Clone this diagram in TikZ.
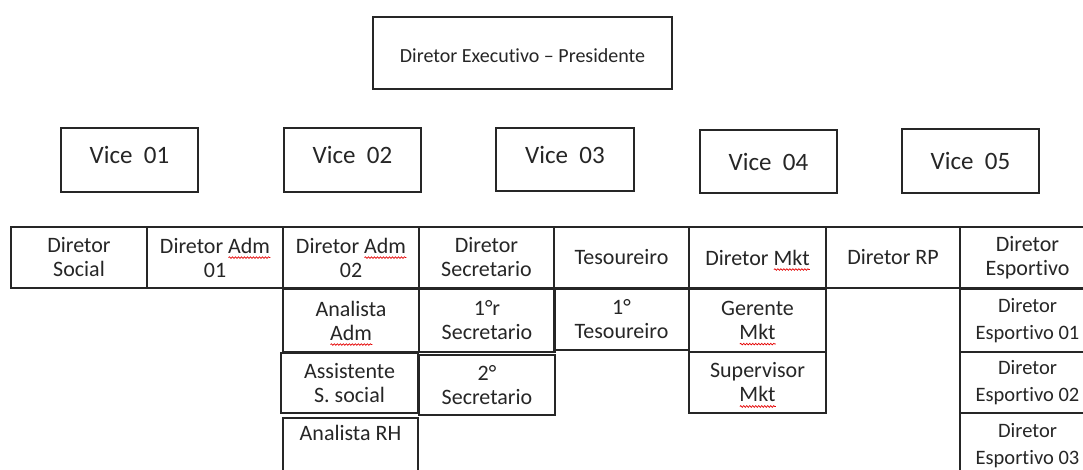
\documentclass[tikz,border=0pt]{standalone}
\usepackage{fontspec}
\setmainfont{Carlito}[Ligatures=NoCommon]
\usetikzlibrary{decorations.pathmorphing}
% red wavy spell-check underline drawn under a word
\newlength\spellwd
\newcommand\spellmark[1]{\settowidth\spellwd{#1}%
  \smash{\rlap{\tikz[baseline=0pt,x=1pt,y=1pt]
    \draw[red!90!black,line width=0.7pt,decorate,
          decoration={snake,amplitude=0.8pt,segment length=3pt}]
      (0,-4.5) -- (\spellwd,-4.5);}}#1}
% \orgcell[options]{name}{x1}{y1}{x2}{y2}{text}
\newcommand\orgcell[7][]{%
  \node[cell,minimum width={#5-#3},minimum height={#6-#4},#1] (#2)
    at ({(#3+#5)/2},{(#4+#6)/2}) {#7};}
\begin{document}
\begin{tikzpicture}[x=1pt,y=-1pt,
  cell/.style={draw=black!85, line width=1.2pt, inner sep=0pt, align=center,
               text=black!85, font=\fontsize{22}{24}\selectfont},
  heavy/.style={line width=2.2pt},
  topfont/.style={font=\fontsize{20}{24}\selectfont, text height=20pt, text depth=0pt},
  vicefont/.style={font=\fontsize{25}{30}\selectfont},
  lift/.style={text depth=10pt},
  subfont/.style={font=\fontsize{20.5}{27}\selectfont},
  txt/.style={inner sep=0pt, align=center, text=black!85, font=\fontsize{22}{24}\selectfont}]

\fill[white] (0,0) rectangle (1083,470);
\useasboundingbox (0,0) rectangle (1083,470);

% president
\orgcell[topfont]{pres}{373}{17}{672}{89}{Diretor Executivo – Presidente}

% vice presidents
\orgcell[vicefont,lift]{v1}{61}{128}{198}{192}{Vice~~01}
\orgcell[vicefont,lift]{v2}{284}{128}{421}{192}{Vice~~02}
\orgcell[vicefont,lift]{v3}{496}{128}{634}{191}{Vice~~03}
\orgcell[vicefont]{v4}{700}{130}{837}{193}{Vice~~04}
\orgcell[vicefont]{v5}{902}{129}{1039}{193}{Vice~~05}

% directors row
\orgcell{ds}{11}{227}{147}{288}{Diretor\\Social}
\orgcell{da1}{147}{227}{283}{288}{Diretor \spellmark{Adm}\\01}
\orgcell{da2}{283}{227}{419}{288}{Diretor \spellmark{Adm}\\02}
\orgcell{dsec}{419}{227}{554}{288}{Diretor\\Secretario}
\orgcell{tes}{554}{227}{689}{288}{Tesoureiro}
\orgcell{dmkt}{689}{227}{826}{288}{Diretor \spellmark{Mkt}}
\orgcell{drp}{826}{227}{960}{288}{Diretor RP}
\orgcell{desp}{960}{227}{1095}{288}{Diretor\\Esportivo}

% staff under Diretor Adm 02
\orgcell{aadm}{283}{289}{419}{352}{Analista\\\spellmark{Adm}}
\orgcell{ass}{281}{353}{418}{413}{Assistente\\S. social}
\orgcell{arh}{283}{418}{418}{495}{}
\node[txt] (arhtext) at (350.5,433) {Analista RH};

% staff under Diretor Secretario
\orgcell[heavy]{sec1}{419}{289}{555}{352}{1°r\\Secretario}
\orgcell{sec2}{419}{355}{555}{415}{2°\\Secretario}

% staff under Tesoureiro
\orgcell{tes1}{554}{289}{689}{350}{1°\\Tesoureiro}

% staff under Diretor Mkt
\orgcell[heavy]{gmkt}{689}{289}{826}{352}{Gerente\\\spellmark{Mkt}}
\orgcell{smkt}{689}{352}{826}{413}{Supervisor\\\spellmark{Mkt}}

% staff under Diretor Esportivo
\orgcell[subfont]{esp1}{960}{289}{1095}{352}{Diretor\\Esportivo 01}
\orgcell[subfont]{esp2}{960}{352}{1095}{413}{Diretor\\Esportivo 02}
\orgcell[subfont]{esp3}{960}{413}{1095}{478}{Diretor\\Esportivo 03}

\end{tikzpicture}
\end{document}
